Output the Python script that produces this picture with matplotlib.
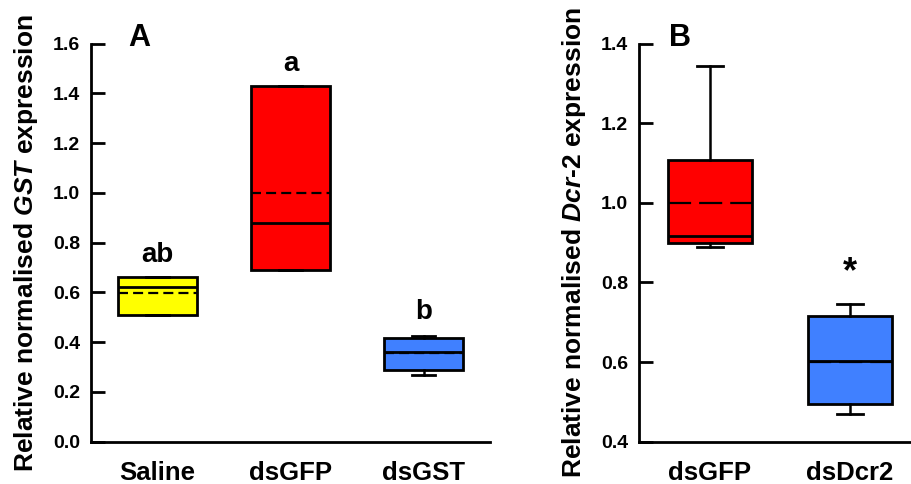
import matplotlib
matplotlib.use("Agg")
import matplotlib.pyplot as plt

plt.rcParams['font.family'] = ['Liberation Sans', 'DejaVu Sans']
plt.rcParams['font.weight'] = 'bold'
plt.rcParams['axes.labelweight'] = 'bold'
plt.rcParams['mathtext.fontset'] = 'custom'
plt.rcParams['mathtext.rm'] = 'Liberation Sans:bold'
plt.rcParams['mathtext.it'] = 'Liberation Sans:bold:italic'

# panel A - GST
groups_a = ['Saline', 'dsGFP', 'dsGST']
q1_a = [0.509, 0.69, 0.288]
med_a = [0.62, 0.88, 0.362]
q3_a = [0.66, 1.43, 0.418]
lo_a = [0.509, 0.69, 0.268]
hi_a = [0.66, 1.43, 0.425]
mean_a = [0.596, 1.0, 0.355]
colors_a = ['#ffff00', '#ff0000', '#4080ff']
letters_a = ['ab', 'a', 'b']
letter_y_a = [0.70, 1.465, 0.47]

# panel B - Dcr-2
groups_b = ['dsGFP', 'dsDcr2']
q1_b = [0.898, 0.495]
med_b = [0.916, 0.602]
q3_b = [1.107, 0.715]
lo_b = [0.888, 0.469]
hi_b = [1.344, 0.746]
mean_b = [1.0, 0.60]
colors_b = ['#ff0000', '#4080ff']


def make_stats(q1, med, q3, lo, hi, mean):
    out = []
    for i in range(len(q1)):
        out.append({'q1': q1[i], 'med': med[i], 'q3': q3[i],
                    'whislo': lo[i], 'whishi': hi[i], 'mean': mean[i],
                    'fliers': []})
    return out


def draw(ax, stats, colors, dash):
    bp = ax.bxp(stats, positions=range(1, len(stats) + 1), widths=0.6,
                capwidths=0.18, patch_artist=True, showmeans=True,
                meanline=True, showfliers=False,
                boxprops=dict(edgecolor='black', linewidth=2),
                medianprops=dict(color='black', linewidth=2),
                meanprops=dict(color='black', linewidth=1.6, linestyle=(0, dash)),
                whiskerprops=dict(color='black', linewidth=1.8),
                capprops=dict(color='black', linewidth=2))
    for patch, c in zip(bp['boxes'], colors):
        patch.set_facecolor(c)
    for s in ['top', 'right']:
        ax.spines[s].set_visible(False)
    for s in ['left', 'bottom']:
        ax.spines[s].set_linewidth(2)
    ax.tick_params(axis='y', direction='in', length=10, width=2, labelsize=14, pad=8)
    ax.tick_params(axis='x', length=0, labelsize=18.5, pad=14)


fig = plt.figure(figsize=(9.12, 4.84), dpi=100)

ax1 = fig.add_axes([0.0998, 0.0874, 0.4375, 0.8225])
draw(ax1, make_stats(q1_a, med_a, q3_a, lo_a, hi_a, mean_a), colors_a, (4.5, 2.3))
ax1.set_xlim(0.5, 3.5)
ax1.set_ylim(0, 1.6)
ax1.set_yticks([0.0, 0.2, 0.4, 0.6, 0.8, 1.0, 1.2, 1.4, 1.6])
ax1.set_yticklabels(['%.1f' % v for v in ax1.get_yticks()])
ax1.set_xticks([1, 2, 3])
ax1.set_xticklabels(groups_a)
ax1.set_ylabel(r'Relative normalised $\mathit{GST}$ expression', fontsize=19, labelpad=9)
for i, t in enumerate(letters_a):
    ax1.text(i + 1, letter_y_a[i], t, ha='center', va='bottom', fontsize=20, fontweight='bold')
ax1.text(0.12, 1.015, 'A', transform=ax1.transAxes, ha='center', va='center',
         fontsize=22, fontweight='bold')

ax2 = fig.add_axes([0.7007, 0.0874, 0.2993, 0.8225])
draw(ax2, make_stats(q1_b, med_b, q3_b, lo_b, hi_b, mean_b), colors_b, (10.4, 3.6))
ax2.set_xlim(0.493, 2.443)
ax2.set_ylim(0.4, 1.4)
ax2.set_yticks([0.4, 0.6, 0.8, 1.0, 1.2, 1.4])
ax2.set_yticklabels(['%.1f' % v for v in ax2.get_yticks()])
ax2.set_xticks([1, 2])
ax2.set_xticklabels(groups_b)
ax2.set_ylabel(r'Relative normalised $\mathit{Dcr}$-$\mathit{2}$ expression', fontsize=19, labelpad=9)
ax2.text(2, 0.78, '*', ha='center', va='bottom', fontsize=26, fontweight='bold')
ax2.text(0.15, 1.015, 'B', transform=ax2.transAxes, ha='center', va='center',
         fontsize=22, fontweight='bold')

fig.savefig('out.png', dpi=100)
